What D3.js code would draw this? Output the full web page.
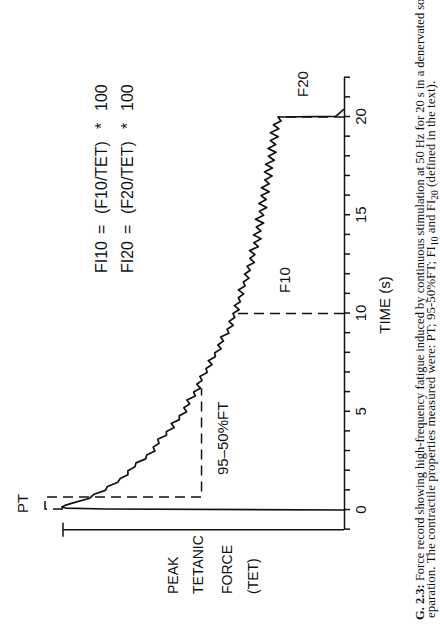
<!DOCTYPE html>
<html>
<head>
<meta charset="utf-8">
<script src="https://cdn.jsdelivr.net/npm/d3@7/dist/d3.min.js"></script>
<style>
  html, body { margin: 0; padding: 0; background: #fff; }
  svg { display: block; }
  .lbl { font-family: "Liberation Sans", Arial, Helvetica, sans-serif; font-size: 15px; fill: #111; }
  .cap { font-family: "Liberation Serif", "Times New Roman", serif; font-size: 12.5px; fill: #111; }
</style>
</head>
<body>
<div id="chart"></div>
<script>
// Force record: time (s) vs force (% of peak tetanic force)
const traceTime = [
  0, 0.05, 0.1, 0.15, 0.25, 0.4, 0.6, 0.8, 1.0, 1.2, 1.4, 1.6, 1.8, 2.0, 2.2, 2.4, 2.6, 2.8,
  3.0, 3.2, 3.4, 3.6, 3.8, 4.0, 4.2, 4.4, 4.6, 4.8, 5.0, 5.2, 5.4, 5.6, 5.8, 6.0, 6.2, 6.4,
  6.6, 6.8, 7.0, 7.2, 7.4, 7.6, 7.8, 8.0, 8.2, 8.4, 8.6, 8.8, 9.0, 9.2, 9.4, 9.6, 9.8, 10.0,
  10.2, 10.4, 10.6, 10.8, 11.0, 11.2, 11.4, 11.6, 11.8, 12.0, 12.2, 12.4, 12.6, 12.8, 13.0,
  13.2, 13.4, 13.6, 13.8, 14.0, 14.2, 14.4, 14.6, 14.8, 15.0, 15.2, 15.4, 15.6, 15.8, 16.0,
  16.2, 16.4, 16.6, 16.8, 17.0, 17.2, 17.4, 17.6, 17.8, 18.0, 18.2, 18.4, 18.6, 18.8, 19.0,
  19.2, 19.4, 19.6, 19.8, 20.0, 20.03, 20.15, 20.3, 20.4
];
const traceForce = [
  0, 85, 99, 100.4, 99, 95.5, 90.5, 89.0, 84.9, 84.2, 80.6, 79.6, 76.9, 76.9, 74.4, 74.0, 70.6, 70.2,
  67.3, 67.9, 65.8, 66.3, 63.2, 63.2, 60.4, 61.5, 58.6, 58.6, 56.0, 57.0, 54.9, 55.9, 52.9, 53.5, 51.1, 52.4,
  50.5, 51.3, 48.7, 49.1, 46.9, 48.3, 45.8, 46.0, 43.7, 44.9, 42.9, 43.9, 41.0, 41.6, 39.4, 40.9, 38.9, 39.5,
  37.3, 39.0, 36.9, 37.6, 35.7, 37.6, 35.2, 35.8, 33.8, 35.4, 33.4, 34.5, 31.9, 33.5, 31.7,
  33.6, 30.5, 32.1, 29.5, 32.2, 29.6, 31.2, 28.6, 31.5, 28.6, 30.1, 27.5, 30.3, 27.7, 29.5,
  26.6, 29.4, 26.6, 28.2, 25.6, 28.3, 25.5, 27.9, 24.8, 26.9, 24.2, 27.0, 24.3, 26.2, 23.4,
  26.2, 23.2, 25.1, 22.4, 23.5, 3.0, 2.0, 0.8, 0
];

// time axis ticks (every second) and the labelled ones
const timeTicks = [-1, 0, 1, 2, 3, 4, 5, 6, 7, 8, 9, 10, 11, 12, 13, 14, 15, 16, 17, 18, 19, 20, 21, 22];
const timeLabels = [0, 5, 10, 15, 20];

// PT / 95-50%FT bracket (time, force)
const bracketTime = [0.05, 0.05, 0.66, 0.66, 6.2];
const bracketForce = [100, 106.4, 106.4, 50.7, 50.7];

// FI markers
const markerNames = ['F10', 'F20'];
const markerTime = [10, 20];
const markerForce = [38.8, 23.3];

const W = 440, H = 625;

const svg = d3.select('#chart').append('svg')
  .attr('width', W)
  .attr('height', H)
  .style('background', '#fff');

// whole figure sits rotated a quarter turn on the page
const g = svg.append('g')
  .attr('transform', `translate(0,${H}) rotate(-90)`);

const x = d3.scaleLinear().domain([-1, 22]).range([95.35, 547.3]);
const y = d3.scaleLinear().domain([0, 100]).range([344, 63]);

// time axis
const xAxis = g.append('g')
  .attr('transform', `translate(0,${y(0)})`)
  .call(d3.axisBottom(x)
    .tickValues(timeTicks)
    .tickSize(6)
    .tickSizeOuter(0)
    .tickPadding(5)
    .tickFormat(d => timeLabels.includes(d) ? d : ''));
xAxis.attr('font-family', null).attr('font-size', null);
xAxis.selectAll('path, line').attr('stroke', '#111').attr('stroke-width', 1.5);
xAxis.selectAll('text').attr('class', 'lbl').attr('fill', '#111');

// peak tetanic force bar
g.append('line')
  .attr('x1', x(-1)).attr('x2', x(-1))
  .attr('y1', y(0)).attr('y2', y(100))
  .attr('stroke', '#111').attr('stroke-width', 1.5);
g.append('line')
  .attr('x1', x(-1) - 7).attr('x2', x(-1) + 7)
  .attr('y1', y(100)).attr('y2', y(100))
  .attr('stroke', '#111').attr('stroke-width', 1.5);

// dashed construction lines
const dashed = '10,6';
g.append('path')
  .attr('d', d3.line()
    .x((d, i) => x(bracketTime[i]))
    .y((d, i) => y(bracketForce[i]))(bracketTime))
  .attr('fill', 'none')
  .attr('stroke', '#111')
  .attr('stroke-width', 1.5)
  .attr('stroke-dasharray', dashed);

g.selectAll('.marker')
  .data(markerTime)
  .join('line')
  .attr('class', 'marker')
  .attr('x1', d => x(d)).attr('x2', d => x(d))
  .attr('y1', y(0))
  .attr('y2', (d, i) => y(markerForce[i]))
  .attr('stroke', '#111')
  .attr('stroke-width', 1.5)
  .attr('stroke-dasharray', dashed);

// force trace
g.append('path')
  .attr('d', d3.line()
    .x((d, i) => x(traceTime[i]))
    .y((d, i) => y(traceForce[i]))(traceTime))
  .attr('fill', 'none')
  .attr('stroke', '#111')
  .attr('stroke-width', 1.7)
  .attr('stroke-linejoin', 'round');

// labels
function label(txt, u, v, opts = {}) {
  const t = g.append('text').attr('class', 'lbl').attr('x', u).attr('y', v).text(txt);
  if (opts.anchor) t.attr('text-anchor', opts.anchor);
  if (opts.size) t.style('font-size', opts.size + 'px');
  return t;
}

label('PT', 112, 28);
label('PEAK', 31, 178, { size: 14 });
label('TETANIC', 31, 203, { size: 14 });
label('FORCE', 31, 232, { size: 14 });
label('(TET)', 31, 258, { size: 14 });
label('95\u201350%FT', 150, 228);
label(markerNames[0], 332, 290);
label(markerNames[1], 528, 308);
label('TIME (s)', 320, 390, { anchor: 'middle' });

// fatigue index formulas, spaced out like the original lettering
[['FI10', 'F10', 107], ['FI20', 'F20', 133]].forEach(([fi, f, v]) => {
  label(fi, 352, v, { size: 16 });
  label('=', 391, v, { size: 16 });
  label(`(${f}/TET)`, 411, v, { size: 16 });
  label('*', 496, v, { size: 16 });
  label('100', 514, v, { size: 16 });
});

// caption (cut off by the page edges, as in the scan)
const cap1 = g.append('text').attr('class', 'cap').attr('x', 5).attr('y', 424);
cap1.append('tspan').attr('font-weight', 'bold').text('G. 2.3:');
cap1.append('tspan').text(' Force record showing high-frequency fatigue induced by continuous stimulation at 50 Hz for 20 s in a denervated so');

const cap2 = g.append('text').attr('class', 'cap').attr('x', 7).attr('y', 435)
  .style('font-size', '13px');
cap2.append('tspan').text('eparation. The contractile properties measured were: PT; 95-50%FT; FI');
cap2.append('tspan').attr('dy', 2.5).style('font-size', '9.5px').text('10');
cap2.append('tspan').attr('dy', -2.5).text(' and FI');
cap2.append('tspan').attr('dy', 2.5).style('font-size', '9.5px').text('20');
cap2.append('tspan').attr('dy', -2.5).text(' (defined in the text).');
</script>
</body>
</html>
